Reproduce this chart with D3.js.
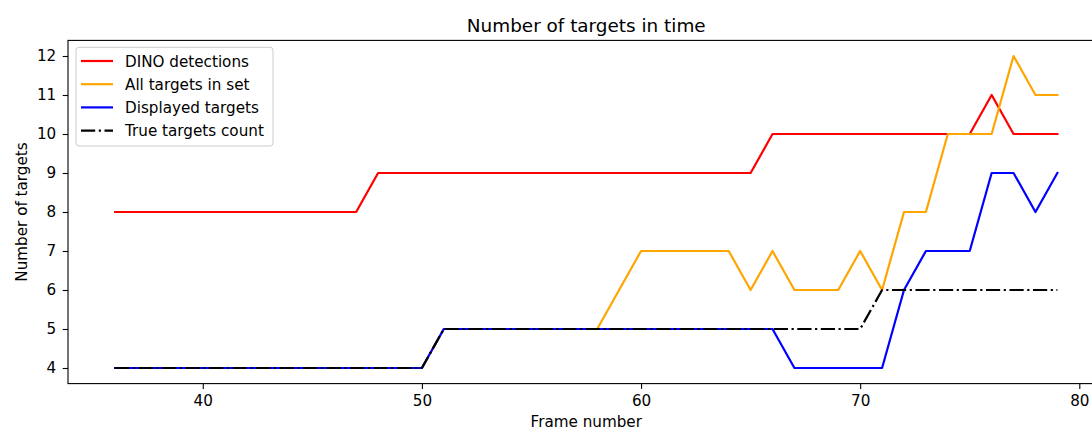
<!DOCTYPE html>
<html>
<head>
<meta charset="utf-8">
<script src="https://cdn.jsdelivr.net/npm/d3@7"></script>
<style>
  html, body { margin: 0; padding: 0; background: #fff; }
  svg { display: block; font-family: "DejaVu Sans", sans-serif; }
</style>
</head>
<body>
<svg id="chart" width="1092" height="430"></svg>
<script>
// Frame numbers
const frames = d3.range(36, 80);

// Target counts per frame
const dinoDetections = [8,8,8,8,8,8,8,8,8,8,8,8,9,9,9,9,9,9,9,9,9,9,9,9,9,9,9,9,9,9,10,10,10,10,10,10,10,10,10,10,11,10,10,10];
const allTargets     = [4,4,4,4,4,4,4,4,4,4,4,4,4,4,4,5,5,5,5,5,5,5,5,6,7,7,7,7,7,6,7,6,6,6,7,6,8,8,10,10,10,12,11,11];
const displayed      = [4,4,4,4,4,4,4,4,4,4,4,4,4,4,4,5,5,5,5,5,5,5,5,5,5,5,5,5,5,5,5,4,4,4,4,4,6,7,7,7,9,9,8,9];
const trueCount      = [4,4,4,4,4,4,4,4,4,4,4,4,4,4,4,5,5,5,5,5,5,5,5,5,5,5,5,5,5,5,5,5,5,5,5,6,6,6,6,6,6,6,6,6];

const seriesNames  = ["DINO detections", "All targets in set", "Displayed targets", "True targets count"];
const seriesColors = ["#ff0000", "#ffa500", "#0000ff", "#000000"];
const seriesValues = [dinoDetections, allTargets, displayed, trueCount];

const xTicks = [40, 50, 60, 70, 80];
const yTicks = [4, 5, 6, 7, 8, 9, 10, 11, 12];

const titleText = "Number of targets in time";
const xLabel = "Frame number";
const yLabel = "Number of targets";

const svg = d3.select("#chart");
const plotLeft = 68, plotRight = 1104.5, plotTop = 40.4, plotBottom = 383.6;

// 5% margins around the data range
const xMin = d3.min(frames), xMax = d3.max(frames);
const xPad = (xMax - xMin) * 0.05;
const x = d3.scaleLinear().domain([xMin - xPad, xMax + xPad]).range([plotLeft, plotRight]);
const yMin = 4, yMax = 12;
const yPad = (yMax - yMin) * 0.05;
const y = d3.scaleLinear().domain([yMin - yPad, yMax + yPad]).range([plotBottom, plotTop]);

const lw = 2.2;
const dashDot = [14.2, 3.55, 2.2, 3.55];
const labelFont = "15.2px";

// Lines
const line = d3.line().x((d, i) => x(frames[i])).y(d => y(d));
seriesValues.forEach((vals, k) => {
  svg.append("path")
    .datum(vals)
    .attr("d", line)
    .attr("fill", "none")
    .attr("stroke", seriesColors[k])
    .attr("stroke-width", lw)
    .attr("stroke-linejoin", "round")
    .attr("stroke-linecap", k === 3 ? "butt" : "square")
    .attr("stroke-dasharray", k === 3 ? dashDot.join(",") : null);
});

// Axes
const tick = 5.3;
const xAxis = d3.axisBottom(x).tickValues(xTicks).tickSize(tick).tickPadding(6.2).tickSizeOuter(0);
const gx = svg.append("g").attr("transform", `translate(0,${plotBottom})`).call(xAxis);
const yAxis = d3.axisLeft(y).tickValues(yTicks).tickSize(tick).tickPadding(6.5).tickSizeOuter(0);
const gy = svg.append("g").attr("transform", `translate(${plotLeft},0)`).call(yAxis);
[gx, gy].forEach(g => {
  g.selectAll("text").attr("font-size", labelFont).attr("font-family", "DejaVu Sans").attr("fill", "#000");
  g.selectAll("line").attr("stroke", "#000").attr("stroke-width", 1.1);
  g.select(".domain").remove();
});

// Spines
svg.append("rect")
  .attr("x", plotLeft).attr("y", plotTop)
  .attr("width", plotRight - plotLeft).attr("height", plotBottom - plotTop)
  .attr("fill", "none").attr("stroke", "#000").attr("stroke-width", 1.1);

// Title and axis labels
svg.append("text")
  .attr("x", (plotLeft + plotRight) / 2).attr("y", 31.5)
  .attr("text-anchor", "middle").attr("font-size", "18.4px").attr("fill", "#000")
  .text(titleText);
svg.append("text")
  .attr("x", (plotLeft + plotRight) / 2).attr("y", 426.5)
  .attr("text-anchor", "middle").attr("font-size", labelFont).attr("fill", "#000")
  .text(xLabel);
svg.append("text")
  .attr("transform", `translate(27,${(plotTop + plotBottom) / 2}) rotate(-90)`)
  .attr("text-anchor", "middle").attr("font-size", labelFont).attr("fill", "#000")
  .text(yLabel);

// Legend
const lg = svg.append("g");
lg.append("rect")
  .attr("x", 76).attr("y", 47.3).attr("width", 197).attr("height", 98.7)
  .attr("rx", 3).attr("fill", "#fff").attr("fill-opacity", 0.8)
  .attr("stroke", "#cccccc").attr("stroke-width", 1);
seriesNames.forEach((name, k) => {
  const cy = 61 + k * 23.2;
  lg.append("line")
    .attr("x1", 81).attr("x2", 113).attr("y1", cy).attr("y2", cy)
    .attr("stroke", seriesColors[k]).attr("stroke-width", lw)
    .attr("stroke-dasharray", k === 3 ? dashDot.join(",") : null);
  lg.append("text")
    .attr("x", 125).attr("y", cy + 5.5)
    .attr("font-size", labelFont).attr("fill", "#000")
    .text(name);
});
</script>
</body>
</html>
